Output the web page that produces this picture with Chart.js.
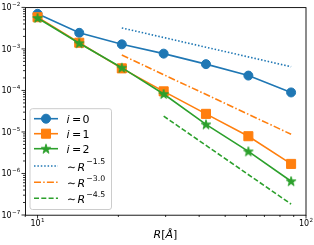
<!DOCTYPE html>
<html><head><meta charset="utf-8">
<script src="https://cdn.jsdelivr.net/npm/chart.js@4.4.0/dist/chart.umd.min.js"></script>
<style>html,body{margin:0;padding:0;background:#fff}#wrap{width:314px;height:245px;position:relative}canvas{display:block}</style>
</head><body><div id="wrap"><canvas id="c" width="314" height="245"></canvas></div>
<script>
// ---- data ----
const R = [10, 14.3, 20.6, 29.5, 42.4, 61.0, 88.0];
const err_i0 = [7.0e-3, 2.44e-3, 1.29e-3, 7.7e-4, 4.3e-4, 2.28e-4, 8.95e-5];
const err_i1 = [5.8e-3, 1.41e-3, 3.4e-4, 9.5e-5, 2.73e-5, 7.9e-6, 1.70e-6];
const err_i2 = [5.56e-3, 1.37e-3, 3.53e-4, 8.2e-5, 1.52e-5, 3.4e-6, 6.5e-7];
const guideR_15 = [20.6, 88.0]; const guide_15 = [3.2e-3, 3.73e-4];
const guideR_30 = [20.6, 88.0]; const guide_30 = [7.1e-4, 8.8e-6];
const guideR_45 = [29.5, 88.0]; const guide_45 = [2.4e-5, 1.83e-7];
const seriesLabels = [['i', '0'], ['i', '1'], ['i', '2'], ['R', '\u22121.5'], ['R', '\u22123.0'], ['R', '\u22124.5']];
const xTickValues = [10, 100];
const xTickExponents = ['1', '2'];
const yTickValues = [1e-7, 1e-6, 1e-5, 1e-4, 1e-3, 1e-2];
const yTickExponents = ['\u22127', '\u22126', '\u22125', '\u22124', '\u22123', '\u22122'];
const xLimits = [8.98, 100];
const yLimits = [1e-7, 1e-2];

const BLUE = '#1f77b4', ORANGE = '#ff7f0e', GREEN = '#2ca02c';
const FONT = '"DejaVu Sans", sans-serif';

function pts(xs, ys) { return xs.map((x, k) => ({x: x, y: ys[k]})); }

function makeStar(color, Rad) {
  const s = Math.ceil(2 * Rad + 4);
  const c = document.createElement('canvas');
  c.width = s; c.height = s;
  const g = c.getContext('2d');
  const cx = s / 2, cy = s / 2 + 0.4, r = Rad * 0.382;
  g.beginPath();
  for (let k = 0; k < 10; k++) {
    const a = -Math.PI / 2 + k * Math.PI / 5;
    const rad = (k % 2) ? r : Rad;
    g.lineTo(cx + rad * Math.cos(a), cy + rad * Math.sin(a));
  }
  g.closePath();
  g.fillStyle = color; g.fill();
  g.lineWidth = 1; g.strokeStyle = color; g.lineJoin = 'miter'; g.stroke();
  return c;
}
const starImg = makeStar(GREEN, 5);

const datasets = [
  {data: pts(R, err_i0), borderColor: BLUE, backgroundColor: BLUE, borderWidth: 1.6, pointStyle: 'circle', pointRadius: 4.5, pointBorderWidth: 1, order: 6},
  {data: pts(R, err_i1), borderColor: ORANGE, backgroundColor: ORANGE, borderWidth: 1.6, pointStyle: 'rect', pointRadius: 6.4, pointBorderWidth: 1, order: 5},
  {data: pts(R, err_i2), borderColor: GREEN, backgroundColor: GREEN, borderWidth: 1.6, pointStyle: starImg, pointRadius: 5, pointBorderWidth: 1, order: 4},
  {data: pts(guideR_15, guide_15), borderColor: BLUE, borderWidth: 1.6, borderDash: [1.5, 1.9], pointRadius: 0, order: 3},
  {data: pts(guideR_30, guide_30), borderColor: ORANGE, borderWidth: 1.6, borderDash: [7, 2.2, 1.5, 2.2], pointRadius: 0, order: 2},
  {data: pts(guideR_45, guide_45), borderColor: GREEN, borderWidth: 1.6, borderDash: [5, 2.3], pointRadius: 0, order: 1}
];

function drawPow(ctx, exp, x, baseline, align) {
  ctx.font = '8px ' + FONT;
  const wm = ctx.measureText('10').width;
  ctx.font = '5.6px ' + FONT;
  const ws = ctx.measureText(exp).width;
  const total = wm + ws + 0.3;
  let x0 = align === 'right' ? x - total : x - total / 2;
  ctx.textAlign = 'left'; ctx.textBaseline = 'alphabetic';
  ctx.font = '8px ' + FONT;
  ctx.fillText('10', x0, baseline);
  ctx.font = '5.6px ' + FONT;
  ctx.fillText(exp, x0 + wm + 0.3, baseline - 3.9);
}

const axesPlugin = {
  id: 'mplAxes',
  afterDraw(chart) {
    const ctx = chart.ctx, ca = chart.chartArea;
    const xs = chart.scales.x, ys = chart.scales.y;
    ctx.save();
    ctx.fillStyle = '#000';
    ctx.strokeStyle = '#000';
    // frame
    ctx.lineWidth = 0.9;
    ctx.strokeRect(ca.left + 0.5, ca.top + 0.2, ca.right - ca.left - 0.5, ca.bottom - ca.top);
    // ticks
    ctx.lineWidth = 0.8;
    ctx.beginPath();
    xTickValues.forEach(v => { const p = xs.getPixelForValue(v); ctx.moveTo(p, ca.bottom); ctx.lineTo(p, ca.bottom + 3.5); });
    for (let e = 0; e <= 1; e++) for (let m = 2; m <= 9; m++) {
      const v = m * Math.pow(10, e);
      if (v < xLimits[0] || v > xLimits[1]) continue;
      const p = xs.getPixelForValue(v); ctx.moveTo(p, ca.bottom); ctx.lineTo(p, ca.bottom + 2);
    }
    yTickValues.forEach(v => { const p = ys.getPixelForValue(v); ctx.moveTo(ca.left, p); ctx.lineTo(ca.left - 3.5, p); });
    for (let e = -7; e <= -3; e++) for (let m = 2; m <= 9; m++) {
      const p = ys.getPixelForValue(m * Math.pow(10, e)); ctx.moveTo(ca.left, p); ctx.lineTo(ca.left - 2, p);
    }
    ctx.stroke();
    // tick labels
    xTickValues.forEach((v, k) => drawPow(ctx, xTickExponents[k], xs.getPixelForValue(v), ca.bottom + 11.2, 'center'));
    yTickValues.forEach((v, k) => drawPow(ctx, yTickExponents[k], ca.left - 4.8, ys.getPixelForValue(v) + 2.9, 'right'));
    // x axis title R[Å]
    const parts = [['R', 'italic '], ['[', ''], ['\u00c5', 'italic '], [']', '']];
    let w = 0;
    parts.forEach(p => { ctx.font = p[1] + '11px ' + FONT; w += ctx.measureText(p[0]).width; });
    let x = (ca.left + ca.right) / 2 - w / 2;
    parts.forEach(p => { ctx.font = p[1] + '11px ' + FONT; ctx.fillText(p[0], x, 237.5); x += ctx.measureText(p[0]).width; });
    ctx.restore();
  }
};

const legendPlugin = {
  id: 'mplLegend',
  afterDraw(chart) {
    const ctx = chart.ctx;
    const bx = 30, by = 108.7, bw = 81.5, bh = 100.8, rr = 2.5;
    ctx.save();
    ctx.beginPath();
    ctx.moveTo(bx + rr, by); ctx.lineTo(bx + bw - rr, by); ctx.arcTo(bx + bw, by, bx + bw, by + rr, rr);
    ctx.lineTo(bx + bw, by + bh - rr); ctx.arcTo(bx + bw, by + bh, bx + bw - rr, by + bh, rr);
    ctx.lineTo(bx + rr, by + bh); ctx.arcTo(bx, by + bh, bx, by + bh - rr, rr);
    ctx.lineTo(bx, by + rr); ctx.arcTo(bx, by, bx + rr, by, rr); ctx.closePath();
    ctx.fillStyle = 'rgba(255,255,255,0.8)'; ctx.fill();
    ctx.lineWidth = 1; ctx.strokeStyle = '#cccccc'; ctx.stroke();
    const rowsY = [118.7, 133.7, 148.7, 166, 182.2, 198.3];
    chart.data.datasets.forEach((ds, k) => {
      const y = rowsY[k];
      ctx.save();
      ctx.strokeStyle = ds.borderColor; ctx.lineWidth = ds.borderWidth;
      ctx.setLineDash(ds.borderDash || []);
      ctx.beginPath(); ctx.moveTo(34, y); ctx.lineTo(58, y); ctx.stroke();
      ctx.setLineDash([]);
      const cx = 46;
      ctx.fillStyle = ds.backgroundColor || ds.borderColor;
      ctx.lineWidth = 1;
      if (ds.pointRadius > 0) {
        if (ds.pointStyle === 'circle') {
          ctx.beginPath(); ctx.arc(cx, y, ds.pointRadius, 0, Math.PI * 2); ctx.fill(); ctx.stroke();
        } else if (ds.pointStyle === 'rect') {
          const h = ds.pointRadius * Math.SQRT1_2;
          ctx.beginPath(); ctx.rect(cx - h, y - h, 2 * h, 2 * h); ctx.fill(); ctx.stroke();
        } else if (ds.pointStyle instanceof HTMLCanvasElement) {
          const im = ds.pointStyle;
          ctx.drawImage(im, cx - im.width / 2, y - im.height / 2);
        }
      }
      ctx.restore();
      // label text
      ctx.fillStyle = '#000'; ctx.textAlign = 'left'; ctx.textBaseline = 'alphabetic';
      const lab = seriesLabels[k];
      if (lab[0] === 'i') {
        const b = y + 4;
        ctx.font = 'italic 11px ' + FONT; ctx.fillText('i', 66.6, b);
        ctx.font = '11px ' + FONT; ctx.fillText('=', 72.0, b); ctx.fillText(lab[1], 82.4, b);
      } else {
        const b = y + 5;
        ctx.font = '11px ' + FONT; ctx.fillText('\u223c', 67.0, b);
        ctx.font = 'italic 11px ' + FONT; ctx.fillText('R', 77.4, b);
        ctx.font = '7.8px ' + FONT; ctx.fillText(lab[1], 86.2, b - 6.6);
      }
    });
    ctx.restore();
  }
};

new Chart(document.getElementById('c'), {
  type: 'line',
  data: {datasets: datasets},
  options: {
    responsive: false, animation: false, devicePixelRatio: 1,
    layout: {padding: {left: 25, right: 8, top: 5, bottom: 30}},
    elements: {line: {tension: 0, fill: false}},
    scales: {
      x: {type: 'logarithmic', min: xLimits[0], max: xLimits[1], display: false},
      y: {type: 'logarithmic', min: yLimits[0], max: yLimits[1], display: false}
    },
    plugins: {legend: {display: false}, tooltip: {enabled: false}}
  },
  plugins: [axesPlugin, legendPlugin]
});
</script>
</body></html>
